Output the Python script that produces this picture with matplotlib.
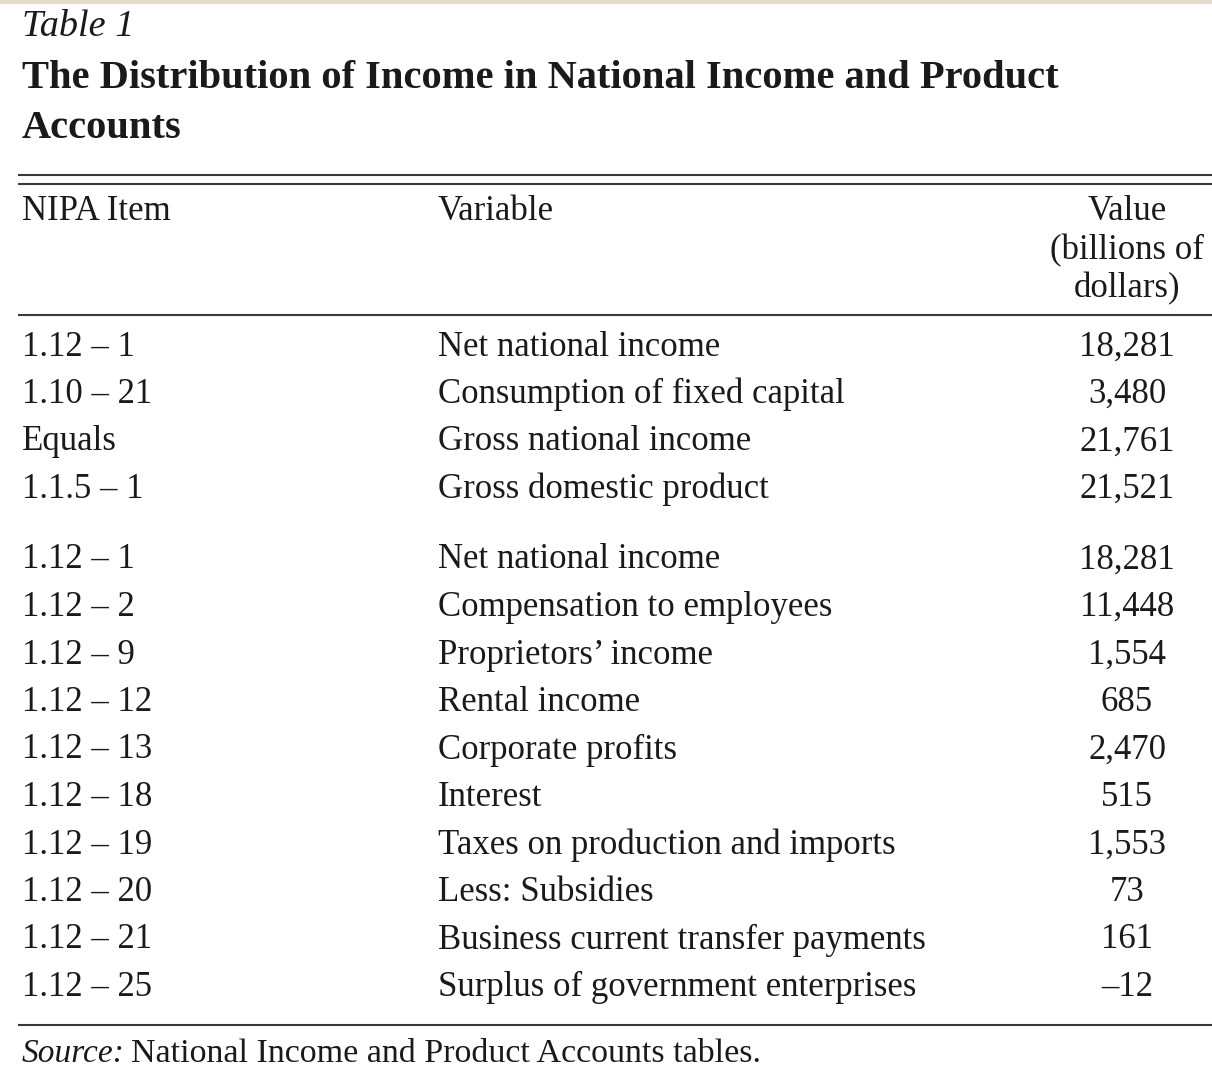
import matplotlib.pyplot as plt

# table contents
items_top = ["1.12 \u2013 1", "1.10 \u2013 21", "Equals", "1.1.5 \u2013 1"]
vars_top = ["Net national income", "Consumption of fixed capital",
            "Gross national income", "Gross domestic product"]
vals_top = [18281, 3480, 21761, 21521]

items_bot = ["1.12 \u2013 1", "1.12 \u2013 2", "1.12 \u2013 9", "1.12 \u2013 12",
             "1.12 \u2013 13", "1.12 \u2013 18", "1.12 \u2013 19", "1.12 \u2013 20",
             "1.12 \u2013 21", "1.12 \u2013 25"]
vars_bot = ["Net national income", "Compensation to employees", "Proprietors\u2019 income",
            "Rental income", "Corporate profits", "Interest",
            "Taxes on production and imports", "Less: Subsidies",
            "Business current transfer payments", "Surplus of government enterprises"]
vals_bot = [18281, 11448, 1554, 685, 2470, 515, 1553, 73, 161, -12]

header = ["NIPA Item", "Variable", ["Value", "(billions of", "dollars)"]]

def fmt(v):
	s = "{:,}".format(abs(v))
	return ("\u2013" + s) if v < 0 else s

plt.rcParams['font.family'] = ['Liberation Serif', 'DejaVu Serif']
fig = plt.figure(figsize = (12.12, 10.8), dpi = 100)
ax = fig.add_axes([0, 0, 1, 1])
ax.set_xlim(0, 1212)
ax.set_ylim(1080, 0)
ax.axis("off")

fs = 25
col_x = [22, 438, 1127]
ink = "#1a1a1a"
rule = "#3a3a3a"

ax.axhline(1.5, color = "#e6dccb", lw = 3)
ax.text(col_x[0], 36, "Table 1", fontsize = 27.5, style = "italic", color = ink, va = "baseline")
ax.text(col_x[0], 88, "The Distribution of Income in National Income and Product", fontsize = 29.2,
	fontweight = "bold", color = ink, va = "baseline")
ax.text(col_x[0], 138, "Accounts", fontsize = 29.2, fontweight = "bold", color = ink, va = "baseline")

for y in [175, 184, 315, 1025]:
	ax.plot([18, 1212], [y, y], color = rule, lw = 1.5, solid_capstyle = "butt")

ax.text(col_x[0], 212, header[0], fontsize = fs, color = ink, va = "center")
ax.text(col_x[1], 212, header[1], fontsize = fs, color = ink, va = "center")
for k, line in enumerate(header[2]):
	ax.text(col_x[2], 212 + k * 38.5, line, fontsize = fs, color = ink, va = "center", ha = "center")

def draw_rows(items, variables, values, y0):
	for i in range(len(items)):
		y = y0 + i * 47.5
		ax.text(col_x[0], y, items[i], fontsize = fs, color = ink, va = "center")
		ax.text(col_x[1], y, variables[i], fontsize = fs, color = ink, va = "center")
		ax.text(col_x[2], y, fmt(values[i]), fontsize = fs, color = ink, va = "center", ha = "center")

draw_rows(items_top, vars_top, vals_top, 347)
draw_rows(items_bot, vars_bot, vals_bot, 560)

# source note: italic label followed by regular text on the same baseline
src = ax.text(col_x[0], 1062, "Source:", fontsize = 24, style = "italic", color = ink, va = "baseline")
fig.canvas.draw()
bb = src.get_window_extent()
x_end = ax.transData.inverted().transform((bb.x1, bb.y0))[0]
ax.text(x_end + 6, 1062, "National Income and Product Accounts tables.", fontsize = 24.5, color = ink, va = "baseline")

fig.savefig("out.png", dpi = 100)
